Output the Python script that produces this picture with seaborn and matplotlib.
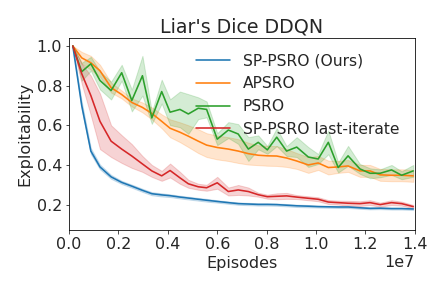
import matplotlib
matplotlib.use("Agg")
import matplotlib.pyplot as plt
import numpy as np
import pandas as pd
import seaborn as sns

# episodes (millions) at which exploitability was logged
episodes_m = [0.15, 0.51, 0.88, 1.25, 1.70, 2.13, 2.54, 2.97, 3.35, 3.75,
              4.09, 4.49, 4.83, 5.23, 5.57, 6.00, 6.45, 6.85, 7.26, 7.66,
              8.03, 8.41, 8.81, 9.22, 9.69, 10.09, 10.50, 10.90, 11.30, 11.78,
              12.19, 12.60, 13.06, 13.47, 13.94]

sp_psro = [1.00, 0.70, 0.47, 0.39, 0.34, 0.312, 0.293, 0.272, 0.255, 0.249,
           0.245, 0.238, 0.233, 0.227, 0.222, 0.216, 0.210, 0.205, 0.203, 0.201,
           0.201, 0.200, 0.197, 0.194, 0.192, 0.190, 0.189, 0.188, 0.188, 0.184,
           0.181, 0.182, 0.180, 0.180, 0.178]
sp_psro_err = [0.0, 0.02, 0.015, 0.012, 0.01, 0.008, 0.008, 0.008, 0.008, 0.008,
               0.007, 0.007, 0.007, 0.007, 0.007, 0.006, 0.006, 0.006, 0.006, 0.006,
               0.006, 0.006, 0.006, 0.006, 0.006, 0.005, 0.005, 0.005, 0.005, 0.005,
               0.005, 0.005, 0.005, 0.005, 0.005]

apsro = [1.00, 0.94, 0.915, 0.875, 0.79, 0.755, 0.715, 0.69, 0.66, 0.62,
         0.585, 0.565, 0.545, 0.52, 0.50, 0.488, 0.48, 0.47, 0.457, 0.449,
         0.446, 0.445, 0.435, 0.42, 0.40, 0.41, 0.387, 0.39, 0.395, 0.37,
         0.37, 0.35, 0.348, 0.348, 0.345]
apsro_err = [0.0, 0.03, 0.035, 0.03, 0.025, 0.02, 0.02, 0.025, 0.03, 0.035,
             0.045, 0.05, 0.055, 0.06, 0.06, 0.06, 0.06, 0.06, 0.055, 0.05,
             0.05, 0.05, 0.045, 0.04, 0.04, 0.035, 0.035, 0.03, 0.03, 0.03,
             0.03, 0.03, 0.03, 0.03, 0.03]

psro = [1.00, 0.87, 0.91, 0.826, 0.775, 0.865, 0.725, 0.85, 0.637, 0.77,
        0.666, 0.68, 0.657, 0.686, 0.68, 0.53, 0.576, 0.556, 0.48, 0.514,
        0.476, 0.54, 0.47, 0.49, 0.44, 0.43, 0.514, 0.387, 0.446, 0.38,
        0.358, 0.358, 0.375, 0.348, 0.37]
psro_err = [0.0, 0.045, 0.035, 0.045, 0.045, 0.04, 0.055, 0.1, 0.03, 0.06,
            0.065, 0.09, 0.1, 0.055, 0.04, 0.03, 0.04, 0.05, 0.06, 0.035,
            0.02, 0.045, 0.025, 0.05, 0.05, 0.025, 0.06, 0.025, 0.05, 0.025,
            0.025, 0.02, 0.025, 0.02, 0.03]

sp_psro_last = [1.00, 0.86, 0.75, 0.62, 0.52, 0.48, 0.445, 0.405, 0.37, 0.345,
                0.372, 0.335, 0.305, 0.29, 0.285, 0.31, 0.266, 0.274, 0.266, 0.25,
                0.24, 0.242, 0.244, 0.238, 0.232, 0.227, 0.213, 0.21, 0.207, 0.205,
                0.21, 0.20, 0.21, 0.205, 0.19]
sp_psro_last_err = [0.0, 0.05, 0.1, 0.14, 0.08, 0.07, 0.06, 0.04, 0.03, 0.025,
                    0.035, 0.03, 0.02, 0.015, 0.015, 0.03, 0.02, 0.025, 0.02, 0.01,
                    0.01, 0.015, 0.015, 0.01, 0.01, 0.01, 0.01, 0.01, 0.012, 0.012,
                    0.012, 0.01, 0.012, 0.01, 0.008]

methods = ["SP-PSRO (Ours)", "APSRO", "PSRO", "SP-PSRO last-iterate"]
series = [(sp_psro, sp_psro_err), (apsro, apsro_err), (psro, psro_err),
          (sp_psro_last, sp_psro_last_err)]

# long-form table: lower / mean / upper per point, so median = line and min-max = band
rows = []
for name, (vals, errs) in zip(methods, series):
    for ep, v, e in zip(episodes_m, vals, errs):
        for s in (-1, 0, 1):
            rows.append({"Episodes": ep * 1e6, "Exploitability": v + s * e, "method": name})
df = pd.DataFrame(rows)

sns.set_style("ticks")
fig, ax = plt.subplots(figsize=(6, 4), dpi=72)
fig.subplots_adjust(left=0.16, right=0.96, top=0.868, bottom=0.2)

sns.lineplot(data=df, x="Episodes", y="Exploitability", hue="method",
             hue_order=methods, palette="tab10", estimator="median",
             errorbar=("pi", 100), linewidth=1.6, ax=ax)

ax.set_xlim(0, 1.4e7)
ax.set_ylim(0.07, 1.04)
ax.set_title("Liar's Dice DDQN", fontsize=19)
ax.set_xlabel("Episodes", fontsize=16)
ax.set_ylabel("Exploitability", fontsize=16)
ax.tick_params(labelsize=16)
ax.xaxis.get_offset_text().set_fontsize(16)
for sp in ax.spines.values():
    sp.set_color("black")
ax.legend(title=None, frameon=False, fontsize=15.5, loc="upper right",
          borderaxespad=0.6, handlelength=2.2)

plt.savefig("out.png", dpi=72)
